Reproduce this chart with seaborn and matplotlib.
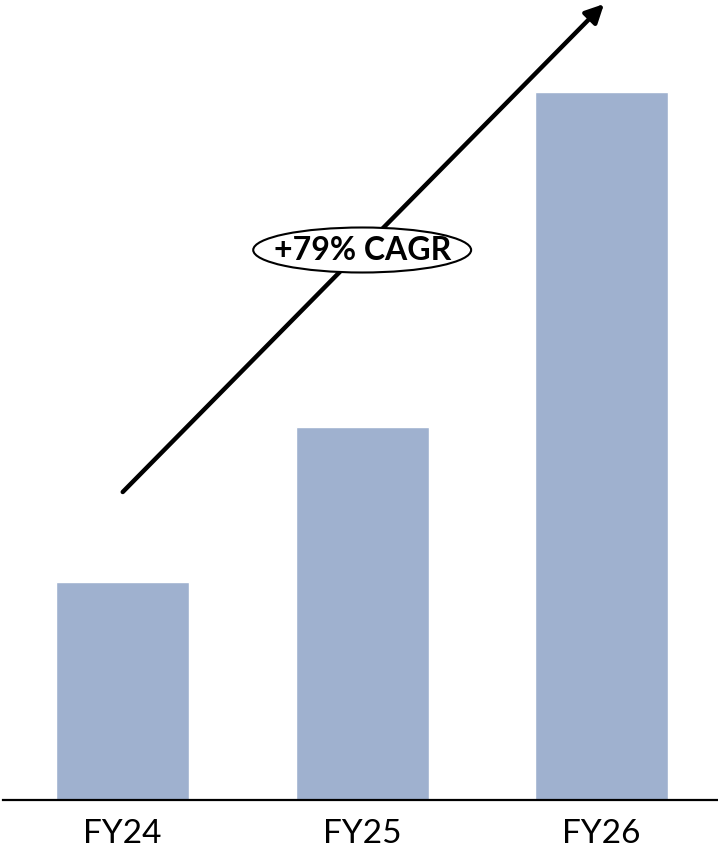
import matplotlib
matplotlib.use("Agg")
import matplotlib.pyplot as plt
import seaborn as sns
import pandas as pd
from matplotlib.patches import Ellipse

categories = ["FY24", "FY25", "FY26"]
values = [21.8, 37.3, 70.8]
cagr_label = "+79% CAGR"

sns.set_style("white")
plt.rcParams["font.family"] = ["Lato", "DejaVu Sans"]
plt.rcParams["text.color"] = "black"

df = pd.DataFrame({"year": categories, "value": values})

fig = plt.figure(figsize=(7.18, 8.5), dpi=100)
ax = fig.add_axes([3/718, 50/850, 715/718, 800/850])

sns.barplot(data=df, x="year", y="value", color="#9FB1CF", saturation=1,
            width=0.555, ax=ax)

ax.set_xlim(-0.5, 2.486)
ax.set_ylim(0, 80)
ax.set_xlabel("")
ax.set_ylabel("")
ax.set_yticks([])
ax.tick_params(axis="x", length=0, labelsize=24, pad=14, colors="black")
for s in ["top", "right", "left"]:
    ax.spines[s].set_visible(False)
ax.spines["bottom"].set_color("black")
ax.spines["bottom"].set_linewidth(1.6)

# growth arrow
ax.annotate("", xy=(2.01, 79.6), xytext=(0.0, 30.8),
            arrowprops=dict(arrowstyle="-|>,head_length=1.1,head_width=0.55",
                            lw=3.2, color="black", shrinkA=0, shrinkB=0),
            annotation_clip=False, zorder=4)

ell = Ellipse((1.0, 55.0), width=0.91, height=4.5, facecolor="white",
              edgecolor="black", lw=1.5, zorder=5)
ax.add_patch(ell)
ax.text(1.0, 55.0, cagr_label, ha="center", va="center", fontsize=23,
        fontweight="bold", color="black", zorder=6)

fig.savefig("out.png", dpi=100)
